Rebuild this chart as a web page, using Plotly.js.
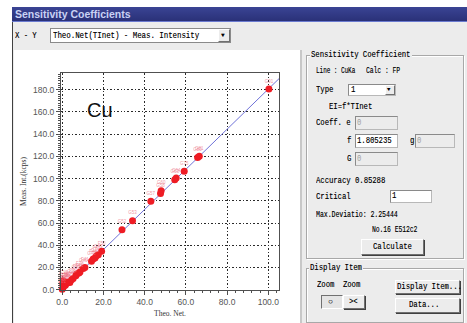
<!DOCTYPE html>
<html>
<head>
<meta charset="utf-8">
<script src="https://cdn.plot.ly/plotly-3.0.1.min.js"></script>
<style>
  html, body { margin:0; padding:0; width:467px; height:323px; overflow:hidden; background:#ffffff; }
  #win { position:absolute; left:12px; top:7px; width:455px; height:316px; background:#ececec; border-left:1px solid #404040; }
  .t { position:absolute; font-family:"Liberation Mono", monospace; font-size:9px; color:#000; white-space:nowrap; line-height:10px; transform:scaleX(0.8); transform-origin:0 50%; text-shadow:0.3px 0 0 rgba(0,0,0,0.45); }
  .box { position:absolute; border:1px solid #a8a8a8; box-shadow: inset 1px 1px 0 #ffffff, 1px 1px 0 #ffffff; }
  .edit { position:absolute; background:#ececec; border:1px solid #b8b8b8; border-top-color:#8a8a8a; border-left-color:#8a8a8a; box-sizing:border-box; }
  .edit.w { background:#ffffff; }
  .btn { position:absolute; background:#ececec; border:1px solid #ffffff; border-right-color:#707070; border-bottom-color:#707070; box-shadow: 1px 1px 0 #404040; box-sizing:border-box; }
  #plot { position:absolute; left:14px; top:50px; width:286px; height:273px; background:#ffffff; }
</style>
</head>
<body>
<div id="win"></div>
<!-- title bar -->
<div style="position:absolute;left:12px;top:7px;width:455px;height:14px;background:linear-gradient(#3a4494,#2a3178);border-bottom:1px solid #6a7ad0;"></div>
<div style="position:absolute;left:15px;top:8px;font-family:'Liberation Sans',Arial,sans-serif;font-weight:bold;font-size:10.5px;color:#c9d2f4;line-height:13px;">Sensitivity Coefficients</div>

<!-- X-Y selector -->
<div class="t" style="left:15px;top:31px;">X - Y</div>
<div style="position:absolute;left:50px;top:28px;width:181px;height:15px;background:#fff;border:1px solid #8a8a8a;box-sizing:border-box;"></div>
<div class="t" style="left:53px;top:31px;transform:scaleX(0.82);">Theo.Net(TInet) - Meas. Intensity</div>
<div class="btn" style="left:218px;top:29px;width:12px;height:13px;box-shadow:none;"></div>
<div class="t" style="left:221px;top:31px;font-size:6px;transform:none;">&#9660;</div>

<!-- plot panel -->
<div style="position:absolute;left:300px;top:50px;width:2px;height:273px;background:#c8c8c8;"></div>
<div id="plot"></div>

<!-- Sensitivity Coefficient group -->
<div class="box" style="left:306px;top:55px;width:156px;height:202px;"></div>
<div style="position:absolute;left:310px;top:51px;width:102px;height:9px;background:#ececec;"></div>
<div class="t" style="left:311px;top:50px;">Sensitivity Coefficient</div>
<div class="t" style="left:316px;top:66px;transform:scaleX(0.66);">Line : CuKa</div>
<div class="t" style="left:366px;top:66px;transform:scaleX(0.7);">Calc : FP</div>
<div class="t" style="left:316px;top:85px;">Type</div>
<div class="edit w" style="left:348px;top:84px;width:48px;height:12px;"></div>
<div class="t" style="left:351px;top:85px;">1</div>
<div class="btn" style="left:385px;top:85px;width:10px;height:10px;box-shadow:none;"></div>
<div class="t" style="left:387px;top:85px;font-size:5.5px;transform:none;">&#9660;</div>
<div class="t" style="left:329px;top:102px;">EI=f*TInet</div>
<div class="t" style="left:316px;top:118px;">Coeff. e</div>
<div class="edit" style="left:355px;top:116px;width:43px;height:14px;"></div>
<div class="t" style="left:357px;top:118px;color:#a0a0a0;text-shadow:none;">0</div>
<div class="t" style="left:347px;top:136px;">f</div>
<div class="edit w" style="left:355px;top:134px;width:43px;height:14px;"></div>
<div class="t" style="left:357px;top:136px;">1.805235</div>
<div class="t" style="left:410px;top:136px;">g</div>
<div class="edit" style="left:415px;top:134px;width:40px;height:14px;"></div>
<div class="t" style="left:417px;top:136px;color:#a0a0a0;text-shadow:none;">0</div>
<div class="t" style="left:347px;top:154px;">G</div>
<div class="edit" style="left:355px;top:152px;width:43px;height:14px;"></div>
<div class="t" style="left:357px;top:154px;color:#a0a0a0;text-shadow:none;">0</div>
<div class="t" style="left:316px;top:176px;">Accuracy</div>
<div class="t" style="left:355px;top:176px;">0.85288</div>
<div class="t" style="left:316px;top:192px;">Critical</div>
<div class="edit w" style="left:390px;top:190px;width:42px;height:13px;"></div>
<div class="t" style="left:392px;top:191px;">1</div>
<div class="t" style="left:316px;top:210px;transform:scaleX(0.72);">Max.Deviatio: 2.25444</div>
<div class="t" style="left:372px;top:225px;transform:scaleX(0.7);">No.16 E512c2</div>
<div class="btn" style="left:361px;top:239px;width:63px;height:16px;"></div>
<div class="t" style="left:373px;top:242px;">Calculate</div>

<!-- Display Item group -->
<div class="box" style="left:306px;top:268px;width:156px;height:53px;"></div>
<div style="position:absolute;left:309px;top:264px;width:54px;height:9px;background:#ececec;"></div>
<div class="t" style="left:310px;top:263px;">Display Item</div>
<div class="t" style="left:317px;top:280px;">Zoom&nbsp; Zoom</div>
<div class="btn" style="left:321px;top:295px;width:22px;height:14px;border-color:#707070;border-right-color:#fff;border-bottom-color:#fff;box-shadow:none;background:#e4e4e4;"></div>
<div class="t" style="left:328px;top:297px;transform:none;font-size:8px;">&#9675;</div>
<div class="btn" style="left:343px;top:295px;width:22px;height:14px;"></div>
<div class="t" style="left:349px;top:297px;">&gt;&lt;</div>
<div class="btn" style="left:395px;top:280px;width:65px;height:14px;"></div>
<div class="t" style="left:397px;top:282px;">Display Item...</div>
<div class="btn" style="left:395px;top:298px;width:65px;height:15px;"></div>
<div class="t" style="left:409px;top:300px;">Data...</div>

<script>
// ---- data ----
var theoNet = [0.0, 0.2, 0.4, 0.6, 0.9, 1.2, 1.5, 2.0, 2.6, 3.2, 3.7, 4.5, 5.3, 6.6, 7.0, 8.1, 8.6, 10.2, 11.0, 14.2, 15.0, 15.9, 16.6, 17.5, 19.1, 29.0, 34.1, 43.0, 47.7, 48.0, 54.6, 55.3, 59.2, 65.7, 66.5, 100.3];
var measInt = [0.3, 5.5, 2.0, 8.0, 3.5, 6.0, 4.0, 5.5, 6.5, 7.0, 6.5, 9.0, 10.0, 12.5, 14.0, 15.0, 16.0, 19.0, 20.0, 25.5, 27.5, 28.5, 30.5, 31.5, 34.5, 54.0, 62.0, 79.5, 86.5, 89.0, 99.0, 100.5, 106.5, 119.0, 120.0, 180.6];
var sampleNames = ["F01","G03","F07","G12","F15","G16","F18","G21","F22","G24","F27","G29","F30","G33","F35","G36","F38","G40","F41","G43","F44","G46","F47","G49","F50","G52","G53","G57","G58","G60","G63","G64","G75","G80","G81","G91"];
var fitX = [0, 105.2];
var fitY = [0, 189.9];
var xTickVals = [0, 20, 40, 60, 80, 100];
var xTickText = ["0.0", "20.0", "40.0", "60.0", "80.0", "100.0"];
var yTickVals = [0, 20, 40, 60, 80, 100, 120, 140, 160, 180];
var yTickText = ["0.0", "20.0", "40.0", "60.0", "80.0", "100.0", "120.0", "140.0", "160.0", "180.0"];

var traces = [
  { x: fitX, y: fitY, mode: 'lines', line: {color: '#6f72d8', width: 1}, hoverinfo: 'skip', showlegend: false },
  { x: theoNet, y: measInt, mode: 'markers+text', text: sampleNames, textposition: 'top center',
    textfont: {family: 'Liberation Sans, sans-serif', size: 4.5, color: 'rgba(235,110,130,0.75)'},
    marker: {color: '#ee1c24', size: 7, line: {width: 0}}, cliponaxis: false, showlegend: false }
];

var axisCommon = {
  showline: true, linecolor: '#505050', linewidth: 1, mirror: true,
  showgrid: true, gridcolor: '#2a2a2a', griddash: '1.5px,2px', gridwidth: 1,
  zeroline: false, ticks: 'outside', ticklen: 4, tickcolor: '#505050',
  tickfont: {family: 'Liberation Sans, sans-serif', size: 8.5, color: '#555'}
};

var layout = {
  width: 286, height: 273,
  margin: {l: 47, r: 21, t: 23, b: 33},
  paper_bgcolor: '#ffffff', plot_bgcolor: '#ffffff',
  showlegend: false,
  xaxis: Object.assign({}, axisCommon, {
    range: [-0.6, 105.2], tickmode: 'array', tickvals: xTickVals, ticktext: xTickText,
    minor: {dtick: 4, ticks: 'outside', ticklen: 2, tickcolor: '#505050', showgrid: false},
    title: {text: 'Theo. Net.', font: {family: 'Liberation Serif, serif', size: 7.5, color: '#333'}, standoff: 4}
  }),
  yaxis: Object.assign({}, axisCommon, {
    range: [-0.3, 195], tickmode: 'array', tickvals: yTickVals, ticktext: yTickText,
    minor: {dtick: 2, ticks: 'outside', ticklen: 2, tickcolor: '#505050', showgrid: false},
    title: {text: 'Meas. Int.(kcps)', font: {family: 'Liberation Serif, serif', size: 7.5, color: '#333'}, standoff: 5}
  }),
  annotations: [
    {x: 18.5, y: 161.5, xref: 'x', yref: 'y', text: 'Cu', showarrow: false,
     font: {family: 'Liberation Sans, Arial, sans-serif', size: 20, color: '#111'}}
  ]
};

Plotly.newPlot('plot', traces, layout, {displayModeBar: false, staticPlot: true});
</script>
</body>
</html>
